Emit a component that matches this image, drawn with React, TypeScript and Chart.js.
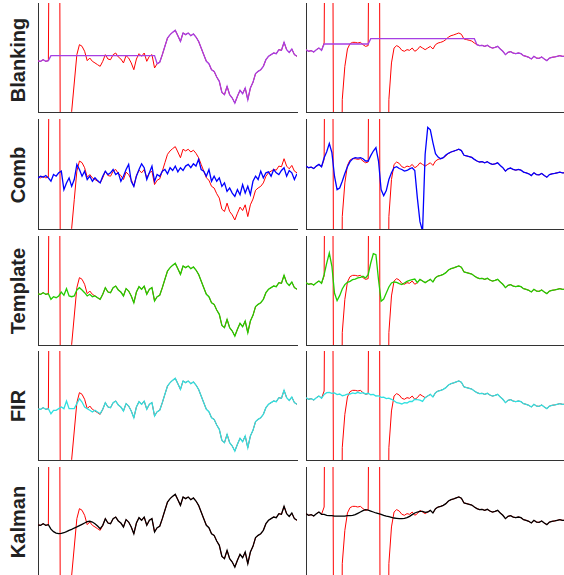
import React, { useEffect, useRef } from "react";
import { Chart, registerables } from "chart.js";
Chart.register(...registerables);

// ---------- Left column (segment 1): raw EEG with one stimulation artifact ----------
const leftHead = [-3.2, -3.5, -2.0, -3.5, -2.9];
const leftRawArtifact = [400, 400, 400, 400, -400, -400, -400, -400, -49.4, -23.4, 2.6, 11.8, 10.3, 5.7, -2.9, -0.5, -3.5, -5.0, -6.6, -8.1];
const leftTail = [
  -3.5, 2.6, -1.4, -2.0, 2.6, 4.1, 0.5, -1.4, -5.0, 1.7,
  -0.5, -5.0, -11.2, -1.4, 3.5, 1.1, 4.1, -3.5, 1.1, 2.6,
  -9.6, -5.7, -4.4, 2.6, 10.3, 17.9, 21.0, 23.1, 24.9, 20.0,
  14.8, 22.5, 21.0, 22.5, 20.0, 21.6, 18.8, 14.8, 8.7, 2.6,
  -3.5, -5.7, -11.2, -12.7, -17.9, -21.9, -32.0, -34.1, -26.5, -34.1,
  -37.2, -41.8, -35.6, -30.1, -33.2, -28.0, -38.7, -28.0, -22.8, -14.8,
  -12.7, -11.2, -8.1, -2.0, 1.1, 2.6, 4.1, 3.5, 7.2, 6.6,
  13.9, 7.2, 4.7, 7.8, 2.6, 1.1,
];
const leftBlankLevel = 1.7;
const leftBlankFrom = 5;
const leftBlankTo = 45;
const leftTemplateSeg = [-8.1, -5.7, -6.6, -5.0, -1.4, -4.4, 1.7, -5.0, -5.7, -5.0, 0.5, 2.6, 0.5, -2.0, -5.0, -3.5, -5.7, -5.0, -6.6, -8.1];
const leftFirSeg = [-7.5, -4.4, -4.4, -2.9, -1.4, -2.9, 4.1, -2.9, -2.9, -2.9, 1.7, 6.3, 3.2, -1.4, -2.9, -4.4, -6.0, -4.4, -6.0, -7.5];
const leftKalmanSeg = [-7.0, -9.3, -10.6, -11.2, -10.9, -10.3, -9.3, -8.1, -7.2, -6.0, -5.0, -3.8, -2.6, -1.4, -0.2, 0.2, -0.5, -2.0, -4.1, -6.6];
const leftComb = [
  -3.5, -2.0, -2.9, -1.4, -3.5, -6.6, -0.5, -2.0, 1.1, 2.6,
  -14.2, -8.1, -3.5, -11.2, -5.0, 8.7, 4.1, -2.0, 2.6, -5.0,
  -2.0, -6.6, -3.5, -6.0, -8.1, -2.0, 2.6, -0.5, 1.1, 4.1,
  -0.5, 1.1, -6.6, -2.0, 4.1, 8.7, -6.6, -11.2, -2.0, 4.1,
  9.3, 5.7, -5.0, 1.1, 7.2, -6.6, -0.5, -2.0, 2.6, 4.1,
  0.2, 5.7, 3.2, 7.2, 2.0, 5.7, 3.2, 7.2, 8.7, 5.7,
  9.3, 7.2, 13.3, 4.1, 2.6, -2.0, 4.1, -6.6, -2.0, -6.6,
  -3.5, -11.2, -8.1, -15.8, -12.7, -17.3, -20.3, -14.2, -18.8, -9.6,
  -17.3, -11.2, -18.8, -6.6, -2.0, -5.0, 2.6, -3.5, 1.1, 2.0,
  -2.0, 4.1, 1.1, -0.5, 3.2, 5.7, -2.0, 3.2, 1.1, -5.0,
  0.2,
];

// ---------- Right column (segment 2): raw EEG with two artifacts ----------
const rightHead = [7.2, 5.7, 6.3, 5.0, 7.2, 8.7, 6.6];
const rightRawMid = [
  13.3, 400, 400, 400, -400, -400, -400, -38.7, -8.1, 7.8,
  12.7, 13.9, 13.9, 13.3, 13.9, 11.8, 10.2, 10.9, 400, 400,
  400, 400, -400, -400, -400, -38.7, -5.0, 8.7, 10.9, 9.6,
  6.6, 5.7, 7.2, 6.6, 8.7, 5.7, 7.2, 10.2, 8.7, 7.2,
  8.7, 10.2, 7.8, 11.8, 13.3, 13.9, 14.8, 16.4,
];
const rightTail = [
  18.8, 20.0, 20.7, 21.6, 22.5, 21.3, 17.0, 16.4, 15.8, 15.1,
  13.3, 11.8, 10.9, 11.2, 10.2, 11.2, 9.6, 8.7, 9.3, 10.2,
  7.8, 5.7, 2.6, 4.7, 5.4, 4.1, 3.5, 4.1, 3.5, 1.7,
  1.1, 0.2, -1.4, 1.1, -0.5, -0.8, 0.5, -1.4, -2.9, -0.5,
  0.2, 0.5, 1.1, 1.7, 1.1, 1.1,
];
const rightBlankSegments = [
  { from: 7, to: 24, level: 12.4 },
  { from: 25, to: 65, level: 17.3 },
];
const rightCombMid = [
  14.8, 20.3, 27.7, 19.4, -2.0, -14.2, -12.7, -6.6, 0.5, 6.6,
  11.2, 13.9, 14.8, 14.5, 14.8, 13.9, 11.8, 11.8, 16.7, 20.9,
  24.0, 11.8, -14.2, -19.7, -15.1, -5.0, 1.1, 5.7, 6.6, 5.0,
  4.1, 2.6, 3.2, 4.7, 5.7, 3.2, -21.9, -43.3, -52, 17.9,
  42.4, 40.2, 28.6, 18.5, 15.4, 13.9, 14.8, 17.3,
];
const rightTemplateMid = [
  14.5, 25.2, 34.4, 22.2, -2.3, -9.3, -4.7, 1.4, 5.4, 7.5,
  8.4, 9.9, 10.5, 11.5, 12.1, 13.0, 11.5, 14.5, 25.2, 33.8,
  32.9, 9.9, -9.9, -7.8, -2.3, 3.2, 6.9, 7.8, 7.5, 6.3,
  5.4, 6.9, 8.4, 9.3, 9.9, 10.5,
];
const rightFirMid = [
  10.2, 11.8, 12.1, 11.2, 11.5, 10.0, 10.5, 9.0, 9.6, 10.4,
  10.5, 11.6, 10.9, 12.1, 11.2, 11.8, 10.6, 11.2, 9.9, 10.2,
  8.7, 8.9, 7.5, 7.6, 6.3, 6.8, 5.7, 4.4, 2.6, 2.2,
  1.4, 2.6, 2.3, 3.8, 3.7, 5.7, 5.3, 5.0, 3.8, 7.2,
];
const rightKalmanMid = [
  6.6, 5.7, 5.4, 5.4, 5.0, 5.0, 5.0, 5.0, 5.0, 5.4,
  5.4, 5.7, 6.3, 7.5, 8.7, 9.9, 10.9, 10.5, 9.6, 8.7,
  7.8, 7.2, 6.6, 5.7, 5.0, 4.4, 3.8, 3.2, 2.9, 2.6,
  2.6, 2.9, 3.5, 4.7, 6.3, 7.8, 8.7, 9.3, 9.3, 8.4,
];

const rowLabels = ["Blanking", "Comb", "Template", "FIR", "Kalman"];
const rowColors = ["#a63fe3", "#0000ff", "#22cc00", "#30e0e0", "#000000"];

// ---------- assemble series ----------
const rawLeft = [...leftHead, ...leftRawArtifact, ...leftTail];
const blankLeft = rawLeft.map((v, i) => (i >= leftBlankFrom && i <= leftBlankTo ? leftBlankLevel : v));
const templateLeft = [...leftHead, ...leftTemplateSeg, ...leftTail];
const firLeft = [...leftHead, ...leftFirSeg, ...leftTail];
const kalmanLeft = [...leftHead, ...leftKalmanSeg, ...leftTail];

const rawRight = [...rightHead, ...rightRawMid, ...rightTail];
const blankRight = rawRight.map((v, i) => {
  const seg = rightBlankSegments.find((s) => i >= s.from && i <= s.to);
  return seg ? seg.level : v;
});
const combRight = [...rightHead, ...rightCombMid, ...rightTail];
const templateRight = [...rightHead, ...rightTemplateMid, ...rightRawMid.slice(rightTemplateMid.length), ...rightTail];
const firRight = [...rightHead, ...rightFirMid, ...rightRawMid.slice(rightFirMid.length), ...rightTail];
const kalmanRight = [...rightHead, ...rightKalmanMid, ...rightRawMid.slice(rightKalmanMid.length), ...rightTail];

const filteredLeft = [blankLeft, leftComb, templateLeft, firLeft, kalmanLeft];
const filteredRight = [blankRight, combRight, templateRight, firRight, kalmanRight];

// ---------- layout ----------
const cols = [
  { l: 38, r: 297 },
  { l: 306, r: 565 },
];
const rows = [
  { t: 3, b: 112 },
  { t: 119, b: 229 },
  { t: 236, b: 345 },
  { t: 351, b: 460 },
  { t: 467, b: 576 },
];
const labelCenters = [60, 175, 291, 406, 522];
const PAD = { left: 4, top: 2, right: 2, bottom: 3 };

function Panel({ l, r, t, b, raw, filt, color }: any) {
  const ref = useRef<HTMLCanvasElement>(null);
  const w = r - l + PAD.left + PAD.right;
  const h = b - t + PAD.top + PAD.bottom;
  useEffect(() => {
    const toXY = (arr: number[]) => arr.map((y, i) => ({ x: i, y }));
    const chart = new Chart(ref.current as HTMLCanvasElement, {
      type: "line",
      data: {
        datasets: [
          { data: toXY(filt), borderColor: color, borderWidth: 1.3, pointRadius: 0, tension: 0, fill: false, clip: 0 } as any,
          { data: toXY(raw), borderColor: "#ff0000", borderWidth: 1, pointRadius: 0, tension: 0, fill: false, clip: 0 } as any,
        ],
      },
      options: {
        animation: false,
        responsive: false,
        events: [],
        layout: { padding: PAD },
        plugins: { legend: { display: false }, tooltip: { enabled: false } },
        scales: {
          x: {
            type: "linear",
            min: 0,
            max: 100,
            grid: { display: false, drawTicks: false },
            ticks: { display: false },
            border: { display: true, color: "#333", width: 1 },
          },
          y: {
            type: "linear",
            min: -50,
            max: 50,
            grid: { display: false, drawTicks: false },
            ticks: { display: false },
            border: { display: true, color: "#333", width: 1 },
          },
        },
      } as any,
    });
    return () => chart.destroy();
  }, []);
  return (
    <canvas
      ref={ref}
      width={w}
      height={h}
      style={{ position: "absolute", left: l - PAD.left, top: t - PAD.top, width: w, height: h, display: "block" }}
    />
  );
}

export default function App() {
  return (
    <div style={{ position: "absolute", left: 0, top: 0, width: 564, height: 575, overflow: "hidden", background: "#fff" }}>
      {rows.map((row, ri) => (
        <React.Fragment key={ri}>
          {cols.map((c, ci) => (
            <Panel
              key={ci}
              l={c.l}
              r={c.r}
              t={row.t}
              b={row.b}
              raw={ci === 0 ? rawLeft : rawRight}
              filt={ci === 0 ? filteredLeft[ri] : filteredRight[ri]}
              color={rowColors[ri]}
            />
          ))}
          <div
            style={{
              position: "absolute",
              left: 18,
              top: labelCenters[ri],
              width: 140,
              height: 20,
              lineHeight: "20px",
              textAlign: "center",
              fontFamily: "'Liberation Sans', Arial, sans-serif",
              fontWeight: "bold",
              fontSize: 20,
              color: "#222",
              whiteSpace: "nowrap",
              transform: "translate(-50%, -50%) rotate(-90deg)",
            }}
          >
            {rowLabels[ri]}
          </div>
        </React.Fragment>
      ))}
    </div>
  );
}
